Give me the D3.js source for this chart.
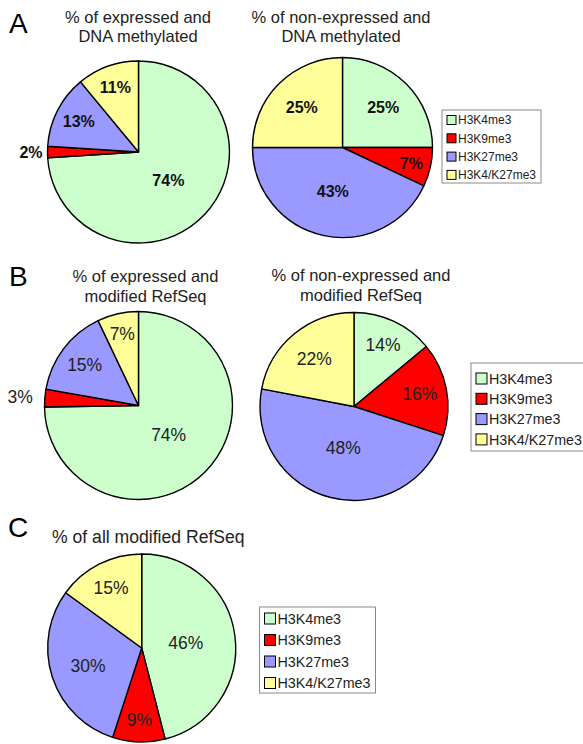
<!DOCTYPE html>
<html>
<head>
<meta charset="utf-8">
<script src="https://cdn.jsdelivr.net/npm/d3@7"></script>
<style>
  html, body { margin: 0; padding: 0; background: #fff; }
  svg { display: block; font-family: Arial, "Liberation Sans", sans-serif; }
</style>
</head>
<body>
<svg id="chart" width="583" height="744"></svg>
<script>
// Histone mark categories and their colours
const categories = ["H3K4me3", "H3K9me3", "H3K27me3", "H3K4/K27me3"];
const colors = ["#ccffcc", "#ff0000", "#9999ff", "#ffff99"];

// Percent of genes per category, one list per pie
const exprDnaMeth    = [74, 2, 13, 11];
const nonExprDnaMeth = [25, 7, 43, 25];
const exprRefSeq     = [74, 3, 15, 7];
const nonExprRefSeq  = [14, 16, 48, 22];
const allRefSeq      = [46, 9, 30, 15];

// Titles
const titleA1 = ["% of expressed and", "DNA methylated"];
const titleA2 = ["% of non-expressed and", "DNA methylated"];
const titleB1 = ["% of expressed and", "modified RefSeq"];
const titleB2 = ["% of non-expressed and", "modified RefSeq"];
const titleC  = ["% of all modified RefSeq"];
const panelLetters = ["A", "B", "C"];

const svg = d3.select("#chart");

const pie = d3.pie().sort(null).value(d => d);
const color = d3.scaleOrdinal().domain(categories).range(colors);

function drawPie(values, o) {
  const g = svg.append("g").attr("transform", `translate(${o.cx},${o.cy})`);
  const arc = d3.arc().innerRadius(0).outerRadius(o.r);
  const arcs = pie(values);
  g.selectAll("path").data(arcs).join("path")
    .attr("d", arc)
    .attr("fill", (d, i) => color(categories[i]))
    .attr("stroke", "#000")
    .attr("stroke-width", 1.4)
    .attr("stroke-linejoin", "round");

  g.selectAll("text.lbl").data(arcs).join("text")
    .attr("class", "lbl")
    .each(function (d) {
      const p = d.value / 100;
      const mid = (d.startAngle + d.endAngle) / 2;
      const t = d3.select(this);
      if (p < 0.05) {
        // tiny slice: label sits just outside the rim
        const rr = o.r + o.outGap;
        t.attr("x", Math.sin(mid) * rr).attr("y", -Math.cos(mid) * rr)
         .attr("text-anchor", "end");
      } else {
        const f = Math.max(0.45, 0.84 - 0.8 * p);
        const rr = o.r * f;
        t.attr("x", Math.sin(mid) * rr).attr("y", -Math.cos(mid) * rr)
         .attr("text-anchor", "middle");
      }
    })
    .attr("dy", "0.36em")
    .attr("font-size", o.labelSize)
    .attr("font-weight", o.bold ? "bold" : "normal")
    .attr("fill", o.bold ? "#111" : "#222")
    .text(d => d.value + "%");
}

function drawTitle(lines, x, y, size, lh, anchor) {
  const t = svg.append("text")
    .attr("x", x).attr("y", y)
    .attr("text-anchor", anchor || "middle")
    .attr("font-size", size)
    .attr("fill", "#222");
  lines.forEach((l, i) => {
    t.append("tspan").attr("x", x).attr("dy", i === 0 ? 0 : lh).text(l);
  });
}

function drawLegend(x, y, w, h, rowStep, box, fontSize, firstRow) {
  const g = svg.append("g").attr("transform", `translate(${x},${y})`);
  g.append("rect").attr("width", w).attr("height", h)
    .attr("fill", "#fff").attr("stroke", "#8a8a8a").attr("stroke-width", 1);
  const rows = g.selectAll("g.row").data(categories).join("g")
    .attr("class", "row")
    .attr("transform", (d, i) => `translate(5,${firstRow + i * rowStep})`);
  rows.append("rect")
    .attr("x", 0).attr("y", -box / 2)
    .attr("width", box).attr("height", box)
    .attr("fill", d => color(d)).attr("stroke", "#000").attr("stroke-width", 1);
  rows.append("text")
    .attr("x", box + 2).attr("dy", "0.36em")
    .attr("font-size", fontSize).attr("fill", "#222")
    .text(d => d);
}

function drawLetter(ch, x, y) {
  svg.append("text").attr("x", x).attr("y", y)
    .attr("font-size", 28).attr("fill", "#000").text(ch);
}

// Panel A
drawLetter(panelLetters[0], 9, 33);
drawTitle(titleA1, 138, 23, 16.5, 19);
drawTitle(titleA2, 341, 23, 16.5, 19);
drawPie(exprDnaMeth,    { cx: 138.5, cy: 152, r: 91, labelSize: 16, bold: true, outGap: 5 });
drawPie(nonExprDnaMeth, { cx: 342.5, cy: 147.5, r: 90, labelSize: 16, bold: true, outGap: 5 });
drawLegend(442, 110, 99, 73, 18.3, 9, 12, 10);

// Panel B
drawLetter(panelLetters[1], 9, 286);
drawTitle(titleB1, 145.5, 282, 16.5, 20);
drawTitle(titleB2, 361, 281, 16.5, 20);
drawPie(exprRefSeq,    { cx: 138.5, cy: 405.5, r: 94, labelSize: 17.5, bold: false, outGap: 12 });
drawPie(nonExprRefSeq, { cx: 354, cy: 406.5, r: 94, labelSize: 17.5, bold: false, outGap: 12 });
drawLegend(471, 363, 113, 88, 20.3, 11, 14.3, 15.5);

// Panel C
drawLetter(panelLetters[2], 8, 537);
drawTitle(titleC, 52, 543, 17.6, 20, "start");
drawPie(allRefSeq, { cx: 141.7, cy: 648, r: 94, labelSize: 17.5, bold: false, outGap: 12 });
drawLegend(259.5, 607, 116, 86, 21.5, 11, 14.3, 11.5);
</script>
</body>
</html>
